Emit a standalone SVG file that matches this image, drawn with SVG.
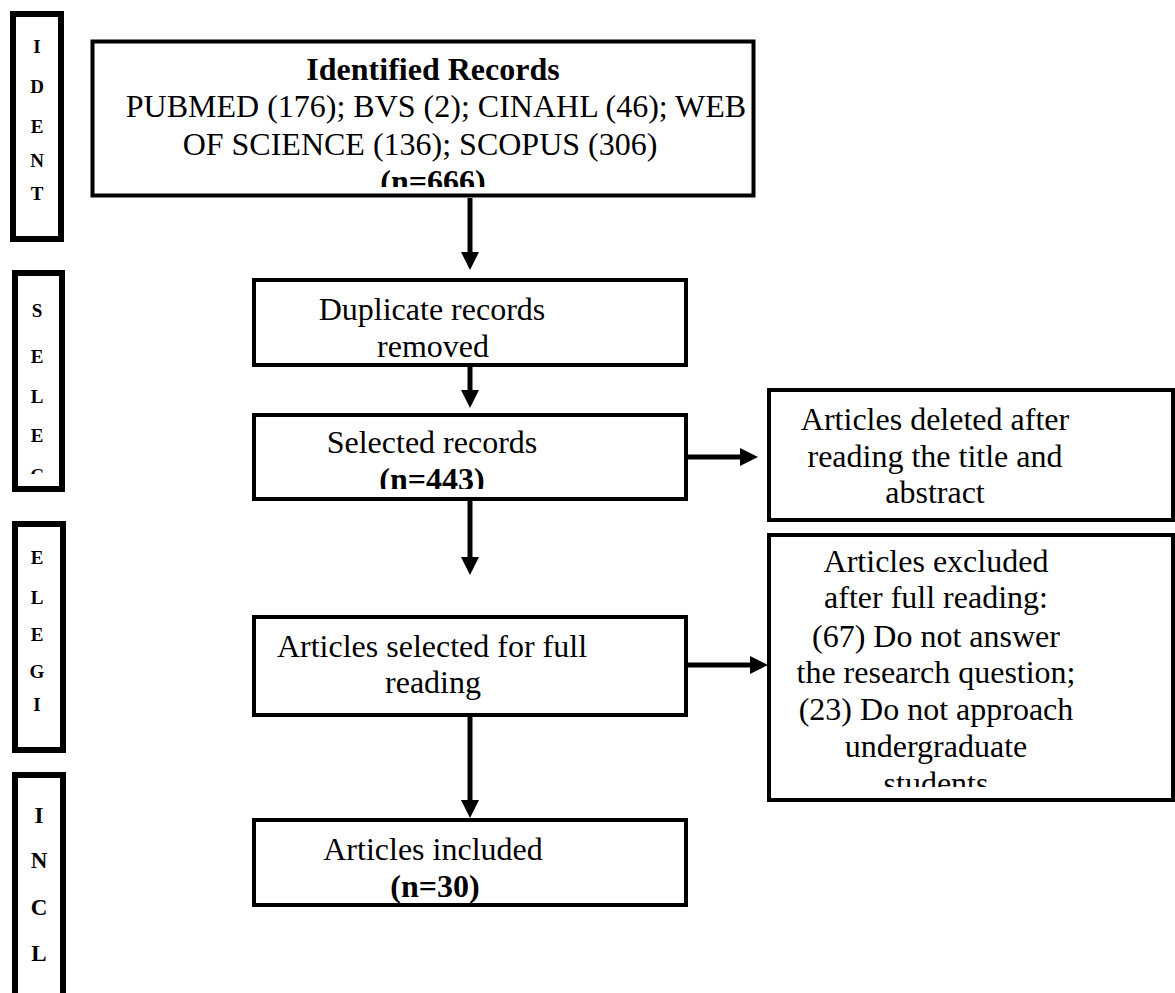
<svg xmlns="http://www.w3.org/2000/svg" width="1175" height="993" viewBox="0 0 1175 993">
<style>
.box{fill:#fff;stroke:#000;stroke-width:4}
.bar{fill:#fff;stroke:#000;stroke-width:6}
.t{font-family:"Liberation Serif","Times New Roman",serif;font-size:32px;fill:#000;text-anchor:middle}
.b{font-weight:bold}
.lt{font-family:"Liberation Serif","Times New Roman",serif;font-size:19px;font-weight:bold;fill:#000;text-anchor:middle}
.lt4{font-size:23px}
.conn{stroke:#000;stroke-width:5;fill:none}
</style>
<defs>
<marker id="ah" markerUnits="userSpaceOnUse" markerWidth="18" markerHeight="18" refX="8" refY="9" orient="auto">
<path d="M0,0 L18,9 L0,18 Z" fill="#000"/>
</marker>
<clipPath id="c-top"><rect x="94" y="43" width="660" height="144"/></clipPath>
<clipPath id="c-dup"><rect x="256" y="282" width="428" height="75"/></clipPath>
<clipPath id="c-sel"><rect x="256" y="417" width="428" height="72"/></clipPath>
<clipPath id="c-exc"><rect x="771" y="537" width="400" height="250"/></clipPath>
<clipPath id="c-bar2"><rect x="17" y="275" width="43" height="199"/></clipPath>
</defs>
<rect width="1175" height="993" fill="#fff"/>

<g id="bar-ident">
<rect class="bar" x="13" y="14" width="48" height="225"/>
<text class="lt" x="37" y="53">I</text>
<text class="lt" x="37" y="93">D</text>
<text class="lt" x="37" y="133">E</text>
<text class="lt" x="37" y="167">N</text>
<text class="lt" x="37" y="200">T</text>
</g>
<g id="bar-selec">
<rect class="bar" x="15" y="273" width="47" height="216"/>
<g clip-path="url(#c-bar2)">
<text class="lt" x="37" y="317">S</text>
<text class="lt" x="37" y="363">E</text>
<text class="lt" x="37" y="403">L</text>
<text class="lt" x="37" y="442">E</text>
<text class="lt" x="37" y="482">C</text>
</g>
</g>
<g id="bar-elegi">
<rect class="bar" x="15" y="524" width="48" height="226"/>
<text class="lt" x="37" y="564">E</text>
<text class="lt" x="37" y="604">L</text>
<text class="lt" x="37" y="641">E</text>
<text class="lt" x="37" y="678">G</text>
<text class="lt" x="37" y="711">I</text>
</g>
<g id="bar-incl">
<rect class="bar" x="15" y="775" width="48" height="230"/>
<text class="lt lt4" x="39" y="823">I</text>
<text class="lt lt4" x="39" y="868">N</text>
<text class="lt lt4" x="39" y="915">C</text>
<text class="lt lt4" x="39" y="961">L</text>
</g>

<g id="node-identified">
<rect class="box" x="92.5" y="41.5" width="661" height="154"/>
<g clip-path="url(#c-top)">
<text class="t b" x="433" y="80">Identified Records</text>
<text class="t" x="436" y="117">PUBMED (176); BVS (2); CINAHL (46); WEB</text>
<text class="t" x="420" y="155">OF SCIENCE (136); SCOPUS (306)</text>
<text class="t b" x="433" y="192">(n=666)</text>
</g>
</g>

<g id="node-duplicate">
<rect class="box" x="254" y="280" width="432" height="85"/>
<g clip-path="url(#c-dup)">
<text class="t" x="432" y="320">Duplicate records</text>
<text class="t" x="433" y="357">removed</text>
</g>
</g>

<g id="node-selected">
<rect class="box" x="254" y="415" width="432" height="84"/>
<g clip-path="url(#c-sel)">
<text class="t" x="432" y="453">Selected records</text>
<text class="t b" x="432" y="490">(n=443)</text>
</g>
</g>

<g id="node-deleted">
<rect class="box" x="769" y="390" width="404" height="130"/>
<text class="t" x="935" y="430">Articles deleted after</text>
<text class="t" x="935" y="467">reading the title and</text>
<text class="t" x="935" y="503">abstract</text>
</g>

<g id="node-fullreading">
<rect class="box" x="254" y="617" width="432" height="98"/>
<text class="t" x="432" y="657">Articles selected for full</text>
<text class="t" x="433" y="693">reading</text>
</g>

<g id="node-excluded">
<rect class="box" x="769" y="535" width="404" height="265"/>
<g clip-path="url(#c-exc)">
<text class="t" x="936" y="572">Articles excluded</text>
<text class="t" x="936" y="608">after full reading:</text>
<text class="t" x="936" y="647">(67) Do not answer</text>
<text class="t" x="936" y="683">the research question;</text>
<text class="t" x="936" y="720">(23) Do not approach</text>
<text class="t" x="936" y="757">undergraduate</text>
<text class="t" x="936" y="794">students</text>
</g>
</g>

<g id="node-included">
<rect class="box" x="254" y="820" width="432" height="85"/>
<text class="t" x="433" y="860">Articles included</text>
<text class="t b" x="435" y="897">(n=30)</text>
</g>

<g id="connectors">
<line class="conn" x1="470" y1="198" x2="470" y2="260" marker-end="url(#ah)"/>
<line class="conn" x1="470" y1="367" x2="470" y2="398" marker-end="url(#ah)"/>
<line class="conn" x1="470" y1="501" x2="470" y2="565" marker-end="url(#ah)"/>
<line class="conn" x1="470" y1="717" x2="470" y2="808" marker-end="url(#ah)"/>
<line class="conn" x1="688" y1="457" x2="748" y2="457" marker-end="url(#ah)"/>
<line class="conn" x1="688" y1="665" x2="758" y2="665" marker-end="url(#ah)"/>
</g>
</svg>
